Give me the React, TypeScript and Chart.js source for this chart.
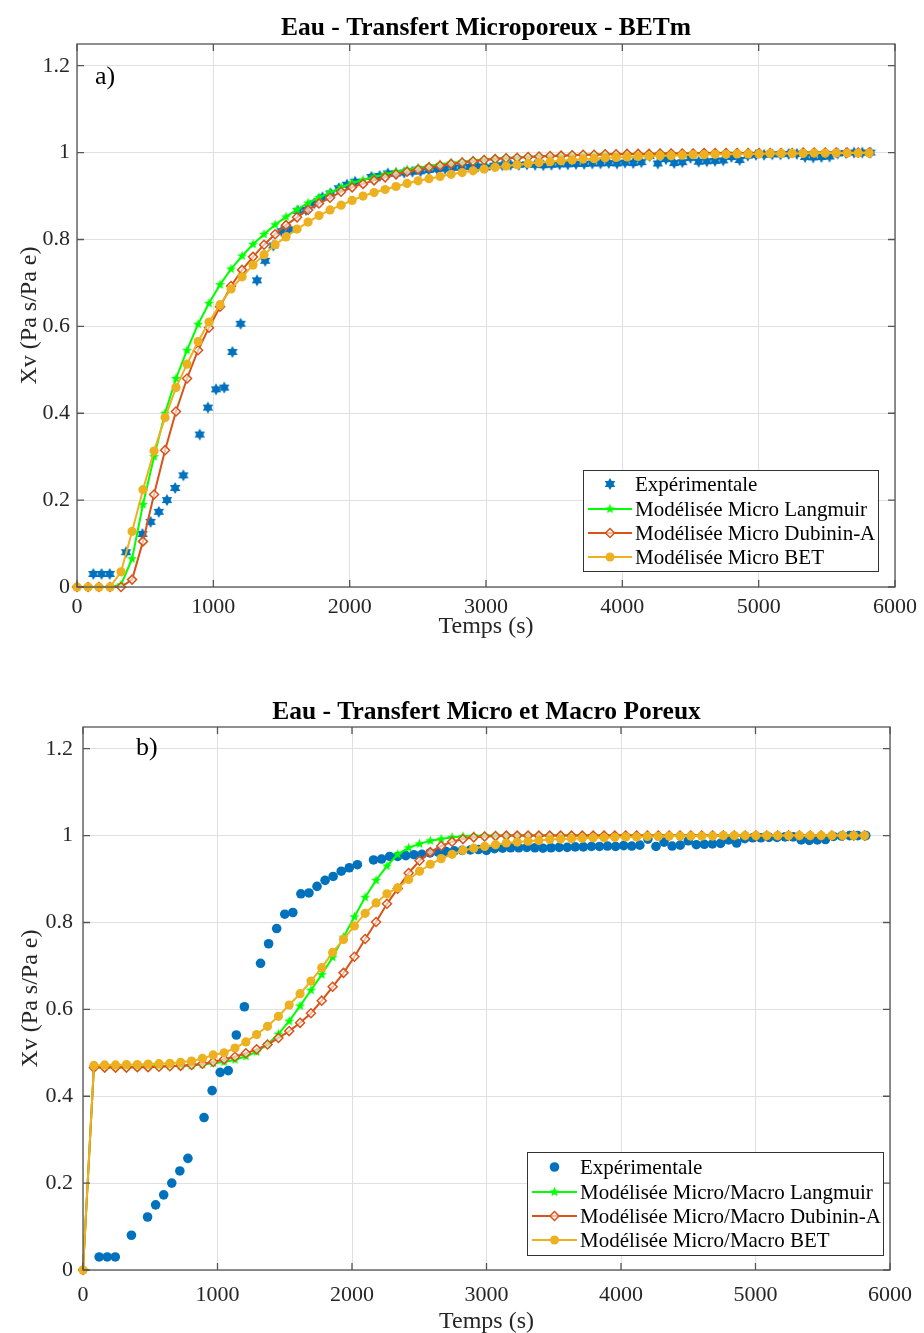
import React, { useEffect, useRef } from "react";
import { Chart, registerables } from "chart.js";

Chart.register(...registerables);

// ---------- DATA ----------
const modelTimes = [0, 81, 161, 242, 323, 404, 484, 565, 646, 726, 807, 888, 968, 1049, 1130, 1211, 1291, 1372, 1453, 1533, 1614, 1695, 1775, 1856, 1937, 2018, 2098, 2179, 2260, 2340, 2421, 2502, 2582, 2663, 2744, 2825, 2905, 2986, 3067, 3147, 3228, 3309, 3389, 3470, 3551, 3632, 3712, 3793, 3874, 3954, 4035, 4116, 4196, 4277, 4358, 4439, 4519, 4600, 4681, 4761, 4842, 4923, 5003, 5084, 5165, 5246, 5326, 5407, 5488, 5568, 5649, 5730, 5810];

const expTimes = [120, 180, 240, 360, 480, 540, 600, 660, 720, 780, 900, 960, 1020, 1080, 1140, 1200, 1320, 1380, 1440, 1500, 1560, 1620, 1680, 1740, 1800, 1860, 1920, 1980, 2040, 2160, 2220, 2280, 2340, 2400, 2460, 2520, 2580, 2640, 2700, 2760, 2820, 2880, 2940, 3000, 3060, 3120, 3180, 3240, 3300, 3360, 3420, 3480, 3540, 3600, 3660, 3720, 3780, 3840, 3900, 3960, 4020, 4080, 4140, 4200, 4260, 4320, 4380, 4440, 4500, 4560, 4620, 4680, 4740, 4800, 4860, 4920, 4980, 5040, 5100, 5160, 5220, 5280, 5340, 5400, 5460, 5520, 5580, 5640, 5700, 5760, 5820];
const expValues = [0.03, 0.03, 0.03, 0.08, 0.122, 0.15, 0.173, 0.2, 0.228, 0.257, 0.351, 0.413, 0.455, 0.459, 0.541, 0.606, 0.706, 0.751, 0.786, 0.819, 0.823, 0.866, 0.868, 0.883, 0.897, 0.906, 0.918, 0.926, 0.933, 0.944, 0.946, 0.952, 0.952, 0.954, 0.956, 0.957, 0.96, 0.962, 0.963, 0.965, 0.966, 0.967, 0.968, 0.966, 0.97, 0.971, 0.972, 0.972, 0.973, 0.972, 0.971, 0.972, 0.973, 0.973, 0.974, 0.974, 0.975, 0.975, 0.976, 0.975, 0.977, 0.976, 0.978, 0.992, 0.975, 0.985, 0.976, 0.978, 0.988, 0.979, 0.98, 0.981, 0.982, 0.99, 0.983, 0.993, 0.995, 0.995, 0.996, 0.996, 0.997, 0.997, 0.99, 0.989, 0.99, 0.991, 0.998, 0.999, 1.0, 1.0, 1.0];

// Panel a) Micro
const langmuirA = [0, 0, 0, 0, 0.005, 0.065, 0.19, 0.3, 0.4, 0.48,
  0.545, 0.605, 0.653, 0.696, 0.732, 0.762, 0.789, 0.812, 0.834, 0.852,
  0.869, 0.884, 0.897, 0.908, 0.92, 0.93, 0.937, 0.944, 0.95, 0.956,
  0.961, 0.965, 0.969, 0.973, 0.976, 0.979, 0.982, 0.984, 0.986, 0.988,
  0.989, 0.99, 0.991, 0.992, 0.993, 0.994, 0.995, 0.995, 0.996, 0.996,
  0.997, 0.997, 0.997, 0.998, 0.998, 0.998, 0.998, 0.999, 0.999, 0.999,
  0.999, 0.999, 0.999, 0.999, 0.999, 0.999, 1, 1, 1, 1,
  1, 1, 1];
const dubininA = [0, 0, 0, 0, 0, 0.017, 0.105, 0.213, 0.315, 0.404,
  0.48, 0.545, 0.597, 0.645, 0.693, 0.73, 0.76, 0.788, 0.812, 0.833,
  0.851, 0.868, 0.883, 0.896, 0.91, 0.92, 0.928, 0.936, 0.943, 0.95,
  0.956, 0.961, 0.966, 0.97, 0.974, 0.977, 0.98, 0.983, 0.985, 0.987,
  0.988, 0.99, 0.991, 0.992, 0.993, 0.994, 0.995, 0.995, 0.996, 0.996,
  0.997, 0.997, 0.997, 0.998, 0.998, 0.998, 0.998, 0.999, 0.999, 0.999,
  0.999, 0.999, 0.999, 0.999, 0.999, 0.999, 1, 1, 1, 1,
  1, 1, 1];
const betA = [0, 0, 0, 0, 0.035, 0.128, 0.224, 0.313, 0.39, 0.459,
  0.513, 0.565, 0.61, 0.65, 0.686, 0.714, 0.741, 0.765, 0.788, 0.806,
  0.824, 0.84, 0.855, 0.868, 0.879, 0.89, 0.9, 0.908, 0.915, 0.922,
  0.929, 0.935, 0.94, 0.945, 0.95, 0.954, 0.958, 0.962, 0.966, 0.969,
  0.972, 0.975, 0.977, 0.979, 0.981, 0.983, 0.985, 0.986, 0.988, 0.989,
  0.99, 0.991, 0.992, 0.993, 0.993, 0.994, 0.995, 0.995, 0.996, 0.996,
  0.997, 0.997, 0.997, 0.998, 0.998, 0.998, 0.998, 0.999, 0.999, 0.999,
  0.999, 0.999, 0.999];

// Panel b) Micro + Macro
const langmuirB = [0, 0.468, 0.468, 0.468, 0.468, 0.468, 0.469, 0.469, 0.47, 0.47,
  0.471, 0.473, 0.476, 0.479, 0.484, 0.492, 0.502, 0.52, 0.543, 0.573,
  0.608, 0.644, 0.68, 0.72, 0.766, 0.813, 0.858, 0.897, 0.93, 0.957,
  0.972, 0.981, 0.988, 0.992, 0.996, 0.998, 0.999, 1, 1, 1,
  1, 1, 1, 1, 1, 1, 1, 1, 1, 1,
  1, 1, 1, 1, 1, 1, 1, 1, 1, 1,
  1, 1, 1, 1, 1, 1, 1, 1, 1, 1,
  1, 1, 1];
const dubininB = [0, 0.466, 0.466, 0.466, 0.466, 0.467, 0.467, 0.468, 0.469, 0.47,
  0.472, 0.475, 0.479, 0.485, 0.491, 0.499, 0.508, 0.519, 0.534, 0.55,
  0.569, 0.591, 0.62, 0.652, 0.684, 0.721, 0.762, 0.801, 0.843, 0.878,
  0.914, 0.942, 0.962, 0.976, 0.986, 0.992, 0.996, 0.998, 0.999, 1,
  1, 1, 1, 1, 1, 1, 1, 1, 1, 1,
  1, 1, 1, 1, 1, 1, 1, 1, 1, 1,
  1, 1, 1, 1, 1, 1, 1, 1, 1, 1,
  1, 1, 1];
const betB = [0, 0.471, 0.472, 0.472, 0.473, 0.473, 0.474, 0.475, 0.476, 0.478,
  0.481, 0.487, 0.495, 0.5, 0.511, 0.525, 0.542, 0.561, 0.584, 0.61,
  0.636, 0.665, 0.696, 0.731, 0.761, 0.792, 0.821, 0.845, 0.866, 0.88,
  0.899, 0.918, 0.934, 0.947, 0.957, 0.966, 0.971, 0.975, 0.979, 0.983,
  0.985, 0.987, 0.989, 0.991, 0.992, 0.993, 0.994, 0.995, 0.995, 0.996,
  0.997, 0.997, 0.998, 0.998, 0.999, 0.999, 0.999, 0.999, 0.999, 1,
  1, 1, 1, 1, 1, 1, 1, 1, 1, 1,
  1, 1, 1];

const xTicks = [0, 1000, 2000, 3000, 4000, 5000, 6000];
const xTickLabels = ["0", "1000", "2000", "3000", "4000", "5000", "6000"];
const yTicks = [0, 0.2, 0.4, 0.6, 0.8, 1, 1.2];
const yTickLabels = ["0", "0.2", "0.4", "0.6", "0.8", "1", "1.2"];

const legendA = ["Expérimentale", "Modélisée Micro Langmuir", "Modélisée Micro Dubinin-A", "Modélisée Micro BET"];
const legendB = ["Expérimentale", "Modélisée Micro/Macro Langmuir", "Modélisée Micro/Macro Dubinin-A", "Modélisée Micro/Macro BET"];

// ---------- STYLE ----------
const SERIF = "'Liberation Serif', 'Times New Roman', serif";
const BLUE = "#0072BD";
const GREEN = "#00FF00";
const RED = "#D95319";
const YELLOW = "#EDB120";
const TEXT = "#262626";
const GRID = "#e0e0e0";
const AXIS = "#555555";

function makeStar(n: number, outer: number, inner: number, color: string): HTMLCanvasElement {
  const size = Math.ceil(outer * 2 + 2);
  const c = document.createElement("canvas");
  c.width = size;
  c.height = size;
  const g = c.getContext("2d")!;
  g.translate(size / 2, size / 2);
  g.beginPath();
  for (let k = 0; k < n * 2; k++) {
    const r = k % 2 === 0 ? outer : inner;
    const ang = -Math.PI / 2 + (k * Math.PI) / n;
    const px = r * Math.cos(ang);
    const py = r * Math.sin(ang);
    if (k === 0) g.moveTo(px, py);
    else g.lineTo(px, py);
  }
  g.closePath();
  g.fillStyle = color;
  g.fill();
  return c;
}

type LegendCfg = { x: number; y: number; w: number; h: number; rows: number[]; lx1: number; lx2: number; tx: number; names: string[] };
type PanelCfg = {
  key: string;
  offsetTop: number;
  height: number;
  plotTop: number;
  plotLeft: number;
  plotRight: number;
  xHeight: number;
  title: string;
  titleY: number;
  label: string;
  labelX: number;
  labelY: number;
  yTitleX: number;
  xTitleY: number;
  xPad: number;
  yPad: number;
  expHex: boolean;
  lang: number[];
  dub: number[];
  bet: number[];
  legend: LegendCfg;
};

const panelA: PanelCfg = {
  key: "a",
  offsetTop: 0,
  height: 660,
  plotTop: 44,
  plotLeft: 77,
  plotRight: 897,
  xHeight: 73,
  title: "Eau - Transfert Microporeux - BETm",
  titleY: 28,
  label: "a)",
  labelX: 95,
  labelY: 77,
  yTitleX: 30,
  xTitleY: 627,
  xPad: 7,
  yPad: 7,
  expHex: true,
  lang: langmuirA,
  dub: dubininA,
  bet: betA,
  legend: { x: 583, y: 470, w: 295, h: 101, rows: [484, 509, 533, 557], lx1: 588, lx2: 632, tx: 635, names: legendA },
};

const panelB: PanelCfg = {
  key: "b",
  offsetTop: 660,
  height: 673,
  plotTop: 67,
  plotLeft: 83,
  plotRight: 897,
  xHeight: 63,
  title: "Eau - Transfert Micro et Macro Poreux",
  titleY: 52,
  label: "b)",
  labelX: 136,
  labelY: 88,
  yTitleX: 31,
  xTitleY: 662,
  xPad: 12,
  yPad: 10,
  expHex: false,
  lang: langmuirB,
  dub: dubininB,
  bet: betB,
  legend: { x: 527, y: 492, w: 356, h: 103, rows: [507, 532, 556, 580], lx1: 532, lx2: 577, tx: 580, names: legendB },
};

function Panel({ cfg }: { cfg: PanelCfg }) {
  const ref = useRef<HTMLCanvasElement>(null);

  useEffect(() => {
    const canvas = ref.current;
    if (!canvas) return;
    const hex = makeStar(6, 6, 3.5, BLUE);
    const star = makeStar(5, 5.2, 2.3, GREEN);

    const drawMarker = (ctx: CanvasRenderingContext2D, kind: number, x: number, y: number) => {
      if (kind === 0) {
        if (cfg.expHex) ctx.drawImage(hex, x - hex.width / 2, y - hex.height / 2);
        else {
          ctx.beginPath();
          ctx.arc(x, y, 4.8, 0, Math.PI * 2);
          ctx.fillStyle = BLUE;
          ctx.fill();
        }
      } else if (kind === 1) {
        ctx.drawImage(star, x - star.width / 2, y - star.height / 2);
      } else if (kind === 2) {
        ctx.beginPath();
        ctx.moveTo(x, y - 4.5);
        ctx.lineTo(x + 4.5, y);
        ctx.lineTo(x, y + 4.5);
        ctx.lineTo(x - 4.5, y);
        ctx.closePath();
        ctx.fillStyle = "rgba(255,255,255,0.6)";
        ctx.fill();
        ctx.strokeStyle = RED;
        ctx.lineWidth = 1.5;
        ctx.stroke();
      } else {
        ctx.beginPath();
        ctx.arc(x, y, 4.5, 0, Math.PI * 2);
        ctx.fillStyle = YELLOW;
        ctx.fill();
      }
    };

    const decor = {
      id: "decor_" + cfg.key,
      afterDraw(chart: any) {
        const ctx: CanvasRenderingContext2D = chart.ctx;
        const a = chart.chartArea;
        const xs = chart.scales.x;
        const ys = chart.scales.y;
        ctx.save();
        // axes box
        ctx.strokeStyle = AXIS;
        ctx.lineWidth = 1.3;
        ctx.strokeRect(a.left, a.top, a.right - a.left, a.bottom - a.top);
        // inward tick marks on all sides
        ctx.beginPath();
        xTicks.forEach((v) => {
          const x = xs.getPixelForValue(v);
          ctx.moveTo(x, a.bottom);
          ctx.lineTo(x, a.bottom - 7);
          ctx.moveTo(x, a.top);
          ctx.lineTo(x, a.top + 7);
        });
        yTicks.forEach((v) => {
          const y = ys.getPixelForValue(v);
          ctx.moveTo(a.left, y);
          ctx.lineTo(a.left + 7, y);
          ctx.moveTo(a.right, y);
          ctx.lineTo(a.right - 7, y);
        });
        ctx.stroke();

        // title
        ctx.fillStyle = "#000";
        ctx.textAlign = "center";
        ctx.textBaseline = "middle";
        ctx.font = `bold 25.5px ${SERIF}`;
        ctx.fillText(cfg.title, (a.left + a.right) / 2, cfg.titleY);

        // axis titles
        ctx.fillStyle = TEXT;
        ctx.font = `24px ${SERIF}`;
        ctx.fillText("Temps (s)", (a.left + a.right) / 2, cfg.xTitleY);
        ctx.save();
        ctx.translate(cfg.yTitleX, (a.top + a.bottom) / 2);
        ctx.rotate(-Math.PI / 2);
        ctx.fillText("Xv (Pa s/Pa e)", 0, 0);
        ctx.restore();

        // panel label
        ctx.fillStyle = "#000";
        ctx.textAlign = "left";
        ctx.font = `26px ${SERIF}`;
        ctx.fillText(cfg.label, cfg.labelX, cfg.labelY);

        // legend
        const L = cfg.legend;
        ctx.fillStyle = "#fff";
        ctx.fillRect(L.x, L.y, L.w, L.h);
        ctx.strokeStyle = "#333";
        ctx.lineWidth = 1;
        ctx.strokeRect(L.x + 0.5, L.y + 0.5, L.w, L.h);
        const lineColors = [null, GREEN, RED, YELLOW];
        L.names.forEach((name, i) => {
          const y = L.rows[i];
          const cx = (L.lx1 + L.lx2) / 2;
          const lc = lineColors[i];
          if (lc) {
            ctx.beginPath();
            ctx.moveTo(L.lx1, y);
            ctx.lineTo(L.lx2, y);
            ctx.strokeStyle = lc;
            ctx.lineWidth = 2;
            ctx.stroke();
          }
          drawMarker(ctx, i, cx, y);
          ctx.fillStyle = "#000";
          ctx.textAlign = "left";
          ctx.textBaseline = "middle";
          ctx.font = `21px ${SERIF}`;
          ctx.fillText(name, L.tx, y + 1);
        });
        ctx.restore();
      },
    };

    const toPts = (xs: number[], ys: number[]) => xs.map((x, i) => ({ x, y: ys[i] }));

    const chart = new Chart(canvas, {
      type: "line",
      data: {
        datasets: [
          {
            label: cfg.legend.names[0],
            data: toPts(expTimes, expValues),
            showLine: false,
            pointStyle: cfg.expHex ? (hex as any) : "circle",
            pointRadius: cfg.expHex ? 5 : 4.8,
            pointBackgroundColor: BLUE,
            pointBorderColor: BLUE,
            pointBorderWidth: 0,
            borderColor: BLUE,
            order: 3,
            clip: false as any,
          },
          {
            label: cfg.legend.names[1],
            data: toPts(modelTimes, cfg.lang),
            borderColor: GREEN,
            borderWidth: 2,
            pointStyle: star as any,
            pointRadius: 5,
            pointBackgroundColor: GREEN,
            pointBorderColor: GREEN,
            order: 2,
            tension: 0,
            clip: false as any,
          },
          {
            label: cfg.legend.names[2],
            data: toPts(modelTimes, cfg.dub),
            borderColor: RED,
            borderWidth: 2,
            pointStyle: "rectRot",
            pointRadius: 4.5,
            pointBackgroundColor: "rgba(255,255,255,0.6)",
            pointBorderColor: RED,
            pointBorderWidth: 1.5,
            order: 1,
            tension: 0,
            clip: false as any,
          },
          {
            label: cfg.legend.names[3],
            data: toPts(modelTimes, cfg.bet),
            borderColor: YELLOW,
            borderWidth: 2,
            pointStyle: "circle",
            pointRadius: 4.6,
            pointBackgroundColor: YELLOW,
            pointBorderColor: YELLOW,
            pointBorderWidth: 0,
            order: 0,
            tension: 0,
            clip: false as any,
          },
        ],
      },
      options: {
        responsive: false,
        animation: false,
        devicePixelRatio: 1,
        layout: { padding: { left: 0, right: 924 - cfg.plotRight, top: cfg.plotTop, bottom: 0 } },
        plugins: {
          legend: { display: false },
          title: { display: false },
          tooltip: { enabled: false },
        },
        events: [],
        scales: {
          x: {
            type: "linear",
            min: 0,
            max: 6000,
            afterBuildTicks: (s: any) => {
              s.ticks = xTicks.map((v) => ({ value: v }));
            },
            afterFit: (s: any) => {
              s.height = cfg.xHeight;
            },
            ticks: {
              autoSkip: false,
              maxRotation: 0,
              padding: cfg.xPad,
              color: TEXT,
              font: { family: SERIF, size: 22 },
              callback: (_v: any, i: number) => xTickLabels[i],
            },
            grid: { color: GRID, drawTicks: false, lineWidth: 1 },
            border: { display: false },
          },
          y: {
            type: "linear",
            min: 0,
            max: 1.25,
            afterBuildTicks: (s: any) => {
              s.ticks = yTicks.map((v) => ({ value: v }));
            },
            afterFit: (s: any) => {
              s.width = cfg.plotLeft;
            },
            ticks: {
              autoSkip: false,
              padding: cfg.yPad,
              color: TEXT,
              font: { family: SERIF, size: 22 },
              callback: (_v: any, i: number) => yTickLabels[i],
            },
            grid: { color: GRID, drawTicks: false, lineWidth: 1 },
            border: { display: false },
          },
        },
      } as any,
      plugins: [decor],
    });
    return () => chart.destroy();
  }, [cfg]);

  return (
    <canvas
      ref={ref}
      width={924}
      height={cfg.height}
      style={{ position: "absolute", left: 0, top: cfg.offsetTop, width: 924, height: cfg.height, display: "block" }}
    />
  );
}

export default function App() {
  return (
    <div style={{ position: "absolute", left: 0, top: 0, width: 924, height: 1333, background: "#fff", overflow: "hidden" }}>
      <Panel cfg={panelA} />
      <Panel cfg={panelB} />
    </div>
  );
}
